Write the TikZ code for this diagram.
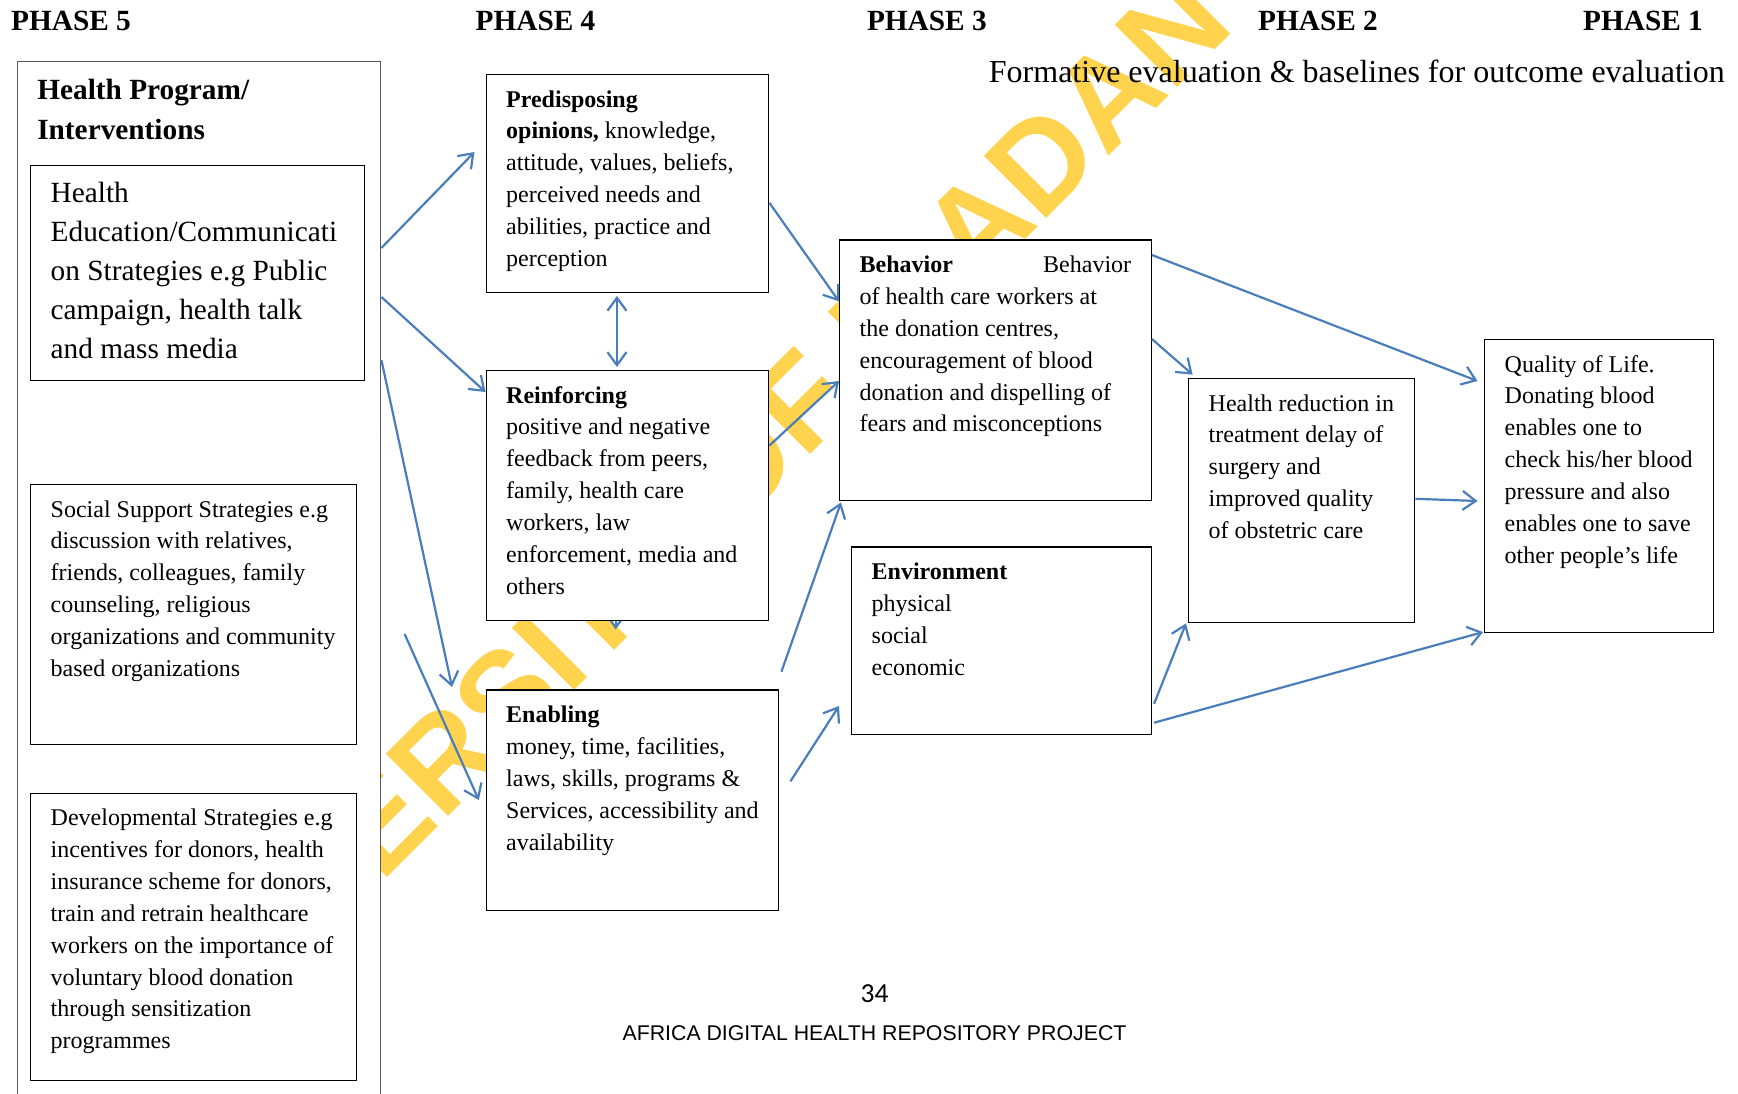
\documentclass[tikz,border=0pt]{standalone}
\usepackage{fontspec}
\setmainfont{Liberation Serif}
\newfontfamily\footfont{Liberation Sans}
\newfontfamily\numfont{Carlito}
\newfontfamily\wmfont{Liberation Sans}
\usetikzlibrary{arrows.meta,backgrounds}
\definecolor{cArr}{HTML}{4A7EBB}
\definecolor{cWm}{HTML}{FFD34E}
\definecolor{cFrame}{HTML}{595959}
\newcommand{\bx}[3]{\parbox[t][#2pt][t]{#1pt}{\raggedright\strut#3}}
\tikzset{
  >=Stealth,
  box/.style   ={draw=black,fill=white,line width=1.4pt,anchor=north west,
                 inner xsep=20pt,inner ysep=10pt},
  frame/.style ={box,draw=cFrame},
  txt/.style   ={font=\fontsize{24}{31.9}\selectfont},
  bigtxt/.style={font=\fontsize{29.3}{38.8}\selectfont},
  phase/.style ={font=\fontsize{29.3}{35}\selectfont\bfseries,anchor=base west,inner sep=0pt},
  ar/.style    ={-{Straight Barb[length=13pt,width=19pt]},line width=2.2pt,cArr},
  dar/.style   ={ar,{Straight Barb[length=13pt,width=19pt]}-{Straight Barb[length=13pt,width=19pt]}},
}
\begin{document}
\begin{tikzpicture}[x=1pt,y=-1pt]
\useasboundingbox (0,0) rectangle (1738,1094);
\clip (0,0) rectangle (1738,1094);

\node[phase] (ph5) at (11,31) {PHASE 5};
\node[phase] (ph4) at (475.5,31) {PHASE 4};
\node[phase] (ph3) at (866.8,31) {PHASE 3};
\node[phase] (ph2) at (1258,31) {PHASE 2};
\node[phase] (ph1) at (1583,31) {PHASE 1};
\node[font=\fontsize{32}{38}\selectfont,anchor=base west,inner sep=0pt] (form) at (988.7,83)
   {Formative evaluation \& baselines for outcome evaluation};

% phase 5: the programme column
\node[frame,font=\fontsize{29.3}{40}\selectfont\bfseries] (hp) at (16.6,61)
   {\bx{323.4}{1049}{Health Program/\\Interventions}};
\node[box,bigtxt] (he) at (30,165) {\bx{293.5}{195}{Health\\Education/Communicati\\on Strategies e.g Public\\
   campaign, health talk\\and mass media}};
\node[box,txt] (ss) at (30,484) {\bx{286}{240}{Social Support Strategies e.g\\discussion with relatives,\\
   friends, colleagues, family\\counseling, religious\\organizations and community\\based organizations}};
\node[box,txt] (ds) at (30,792.5) {\bx{286}{267}{Developmental Strategies e.g\\incentives for donors, health\\
   insurance scheme for donors,\\train and retrain healthcare\\workers on the importance of\\
   voluntary blood donation\\through sensitization\\programmes}};

% phase 4
\node[box,txt] (pred) at (485.5,74) {\bx{242.5}{197.5}{\textbf{Predisposing}\\\textbf{opinions,} knowledge,\\
   attitude, values, beliefs,\\perceived needs and\\abilities, practice and\\perception}};
\node[box,txt] (reinf) at (485.5,370) {\bx{242.5}{229.6}{\textbf{Reinforcing}\\positive and negative\\
   feedback from peers,\\family, health care\\workers, law\\enforcement, media and\\others}};
\node[box,txt] (enab) at (485.5,689.4) {\bx{252.5}{200.6}{\textbf{Enabling}\\money, time, facilities,\\
   laws, skills, programs \&\\Services, accessibility and\\availability}};

% phase 3
\node[box,txt] (beh) at (839,239.4) {\bx{271.5}{240.6}{\textbf{Behavior}\hfill Behavior\\
   of health care workers at\\the donation centres,\\encouragement of blood\\
   donation and dispelling of\\fears and misconceptions}};
\node[box,txt] (env) at (851,546.4) {\bx{259.5}{167.4}{\textbf{Environment}\\physical\\social\\economic}};

% phases 2 and 1
\node[box,txt] (hr) at (1188,378) {\bx{186}{224}{Health reduction in\\treatment delay of\\surgery and\\
   improved quality\\of obstetric care}};
\node[box,txt] (qol) at (1484,339) {\bx{188.5}{273}{Quality of Life.\\Donating blood\\enables one to\\
   check his/her blood\\pressure and also\\enables one to save\\other people’s life}};

\begin{scope}[on background layer]
\node[font=\wmfont\bfseries\fontsize{128}{136}\selectfont,text=cWm,rotate=45,anchor=base east,
   inner sep=0pt] (wm) at (1237,28) {UNIVERSITY OF IBADAN};
\draw[ar] ([xshift=-11.75pt,yshift=30pt]reinf.south) -- ([xshift=-11.75pt,yshift=-8.4pt]reinf.south);
\end{scope}

\coordinate (s4) at (404.6,634);
\draw[ar] ([yshift=-187pt]hp.north east) -- ([xshift=-11pt,yshift=-78pt]pred.north west);
\draw[ar] ([yshift=-236pt]hp.north east) -- ([yshift=-22pt]reinf.north west);
\draw[ar] ([yshift=-299pt]hp.north east) -- ([xshift=-33.5pt,yshift=2.4pt]enab.north west);
\draw[ar] (s4) -- ([xshift=-6.7pt,yshift=-110.6pt]enab.north west);
\draw[dar] ([xshift=-10.5pt,yshift=-3pt]pred.south) -- ([xshift=-10.5pt,yshift=3pt]reinf.north);

\draw[ar] ([yshift=-128.8pt]pred.north east) -- ([yshift=-62pt]beh.north west);
\draw[ar] ([yshift=-75.6pt]reinf.north east) -- ([yshift=-141.6pt]beh.north west);
\draw[ar] ([xshift=2pt,yshift=17.7pt]enab.north east) -- ([xshift=2pt,yshift=-1pt]beh.south west);
\draw[ar] ([xshift=11pt,yshift=-92pt]enab.north east) -- ([xshift=-12pt,yshift=-159.6pt]env.north west);

\draw[ar] ([yshift=-15.6pt]beh.north east) -- ([xshift=-6.5pt,yshift=-42pt]qol.north west);
\draw[ar] ([yshift=-99.6pt]beh.north east) -- ([xshift=4.6pt,yshift=3.4pt]hr.north west);
\draw[ar] ([yshift=-120.8pt]hr.north east) -- ([xshift=-6.5pt,yshift=-162pt]qol.north west);
\draw[ar] ([xshift=2.2pt,yshift=-157.4pt]env.north east) -- ([xshift=-2pt]hr.south west);
\draw[ar] ([xshift=2.2pt,yshift=-176.3pt]env.north east) -- ([xshift=-1pt,yshift=1.3pt]qol.south west);

\node[font=\numfont\fontsize{27.5}{30}\selectfont,anchor=base,inner sep=0pt] (pg) at (874.5,1002) {34};
\node[font=\footfont\fontsize{21.3}{25}\selectfont,anchor=base,inner sep=0pt] (foot) at (874.5,1040)
   {AFRICA DIGITAL HEALTH REPOSITORY PROJECT};
\end{tikzpicture}
\end{document}
